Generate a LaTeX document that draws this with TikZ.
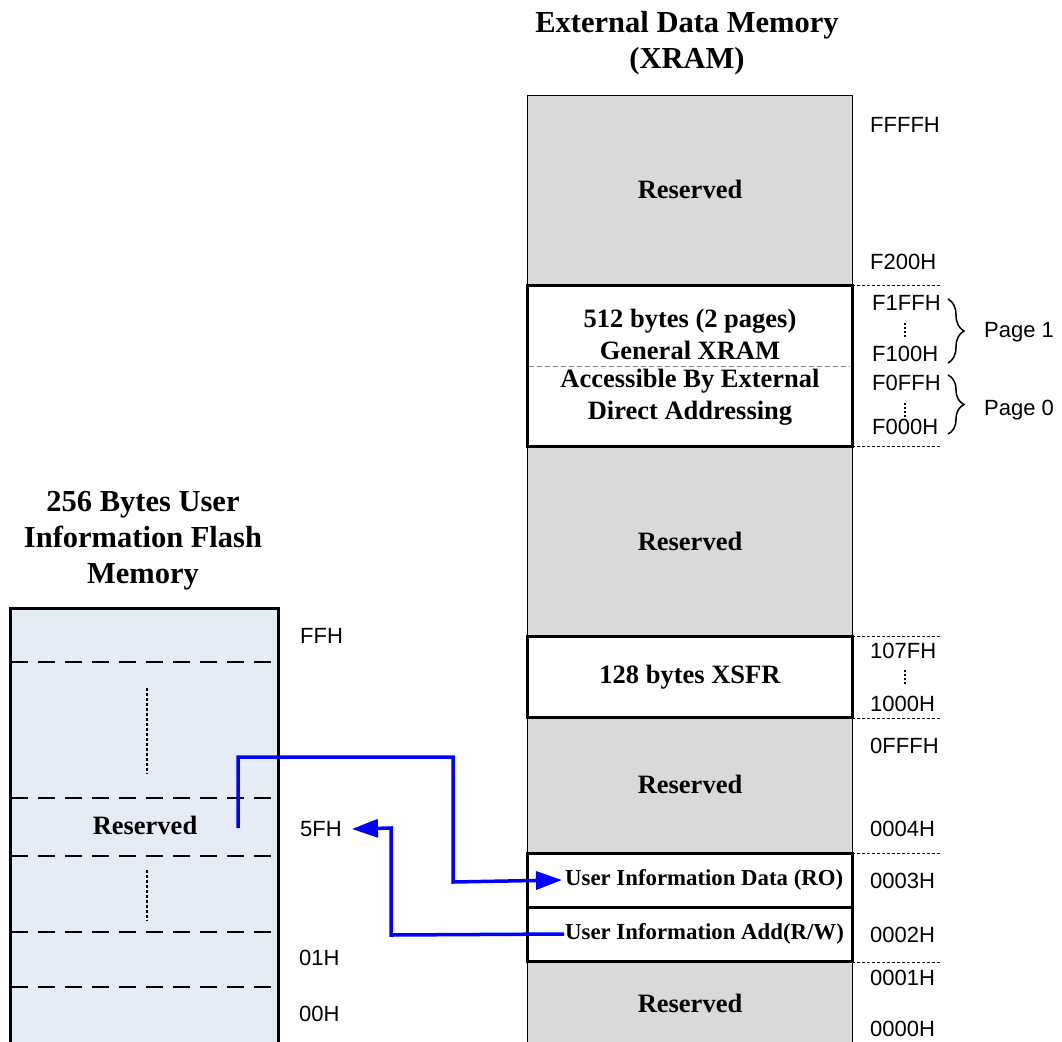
\documentclass[tikz,border=0pt]{standalone}
\usepackage{fontspec}
\setmainfont{Liberation Serif}
\setsansfont{Liberation Sans}
\usetikzlibrary{arrows.meta,decorations.pathreplacing}
\definecolor{grayfill}{RGB}{217,217,217}
\definecolor{flashfill}{RGB}{230,236,246}
\begin{document}
\begin{tikzpicture}[x=1pt,y=-1pt,
 title/.style={font=\fontsize{30.5}{36}\selectfont\bfseries, align=center},
 body/.style={font=\fontsize{26.5}{32}\selectfont\bfseries, align=center},
 small/.style={font=\fontsize{22.8}{26}\selectfont\bfseries, inner sep=1pt},
 addr/.style={font=\sffamily\fontsize{22}{26}\selectfont, anchor=west, inner sep=0pt},
 tbox/.style={draw, line width=3pt, fill=white},
 sep/.style={draw, line width=0.7pt, dash pattern=on 3pt off 2pt},
 fsep/.style={draw, line width=1.6pt, dash pattern=on 17pt off 10pt},
 vdots/.style={draw, line width=1.6pt, dash pattern=on 1.6pt off 2.4pt},
 ldots/.style={draw, line width=2pt, dash pattern=on 2.5pt off 2.5pt},
 flow/.style={draw=blue, line width=3.5pt, -{Triangle[length=26pt,width=18pt]}},
 pbrace/.style={draw, line width=1.5pt, decorate, decoration={brace, amplitude=16pt}}
]
\useasboundingbox (0,0) rectangle (1062,1041);
\clip (0,0) rectangle (1062,1041);

% ---------- XRAM column ----------
\node[title] (xtitle) at (687,43) {External Data Memory\\(XRAM)};
\path[draw, fill=grayfill, line width=0.8pt] (527,95) rectangle (852,1060);

\path[tbox] (527,285) rectangle (852,446);
\draw[draw=gray, line width=1pt, dash pattern=on 5pt off 3pt] (529,366) -- (850,366);
\path[tbox] (527,636) rectangle (852,717);
\path[tbox] (527,853) rectangle (852,907);
\path[tbox] (527,907) rectangle (852,961);

\node[body] (r1) at (690,189) {Reserved};
\node[body] (g1) at (690,334) {512 bytes (2 pages)\\General XRAM};
\node[body] (g2) at (690,397) {Accessible By External\\Direct Addressing};
\node[body] (r2) at (690,541) {Reserved};
\node[body] (xs) at (690,677) {128 bytes XSFR};
\node[body] (r3) at (690,784) {Reserved};
\node[small, anchor=west] (uid) at (564,880) {User Information Data (RO)};
\node[small, anchor=west] (uia) at (564,934) {User Information Add(R/W)};
\node[body] (r4) at (690,1003) {Reserved};

% separators on the right
\foreach \yy in {285,446,636,718,853,962}
  \draw[sep] (852,\yy) -- (942,\yy);

% addresses
\node[addr] (aFFFF) at (870,125) {FFFFH};
\node[addr] (aF200) at (870,262) {F200H};
\node[addr] (aF1FF) at (872,303) {F1FFH};
\node[addr] (aF100) at (872,354) {F100H};
\node[addr] (aF0FF) at (872,383) {F0FFH};
\node[addr] (aF000) at (872,427) {F000H};
\node[addr] (a107F) at (870,651) {107FH};
\node[addr] (a1000) at (870,704) {1000H};
\node[addr] (a0FFF) at (870,746) {0FFFH};
\node[addr] (a0004) at (870,829) {0004H};
\node[addr] (a0003) at (870,881) {0003H};
\node[addr] (a0002) at (870,935) {0002H};
\node[addr] (a0001) at (870,978) {0001H};
\node[addr] (a0000) at (870,1029) {0000H};
\draw[vdots] (905,323) -- (905,337);
\draw[vdots] (905,403) -- (905,417);
\draw[vdots] (905,670) -- (905,684);

% braces
\draw[pbrace] (948,299) -- (948,363);
\draw[pbrace] (948,375) -- (948,434);
\node[addr] (p1) at (984,332) {Page 1};
\node[addr] (p0) at (984,410) {Page 0};

% ---------- Flash column ----------
\node[title] (ftitle) at (143,541) {256 Bytes User\\Information Flash\\Memory};
\path[draw, fill=flashfill, line width=3pt] (10,608) rectangle (278,1060);
\foreach \yy in {662,798,856,932,987}
  \draw[fsep] (11,\yy) -- (276,\yy);
\draw[ldots] (147,688) -- (147,774);
\draw[ldots] (147,870) -- (147,921);
\node[body] (fr) at (145,825) {Reserved};
\node[addr] (fFF) at (300,636) {FFH};
\node[addr] (f5F) at (300,829) {5FH};
\node[addr] (f01) at (299,958) {01H};
\node[addr] (f00) at (299,1014) {00H};

% ---------- arrows ----------
\coordinate (src) at (238,828);
\draw[flow] (src) -- (238,757) -- (453,757) -- (453,882) -- ([xshift=-2pt]uid.west);
\draw[flow] (uia.west) -- (391,935) -- (391,828) -- ([xshift=10pt]f5F.east);
\end{tikzpicture}
\end{document}
